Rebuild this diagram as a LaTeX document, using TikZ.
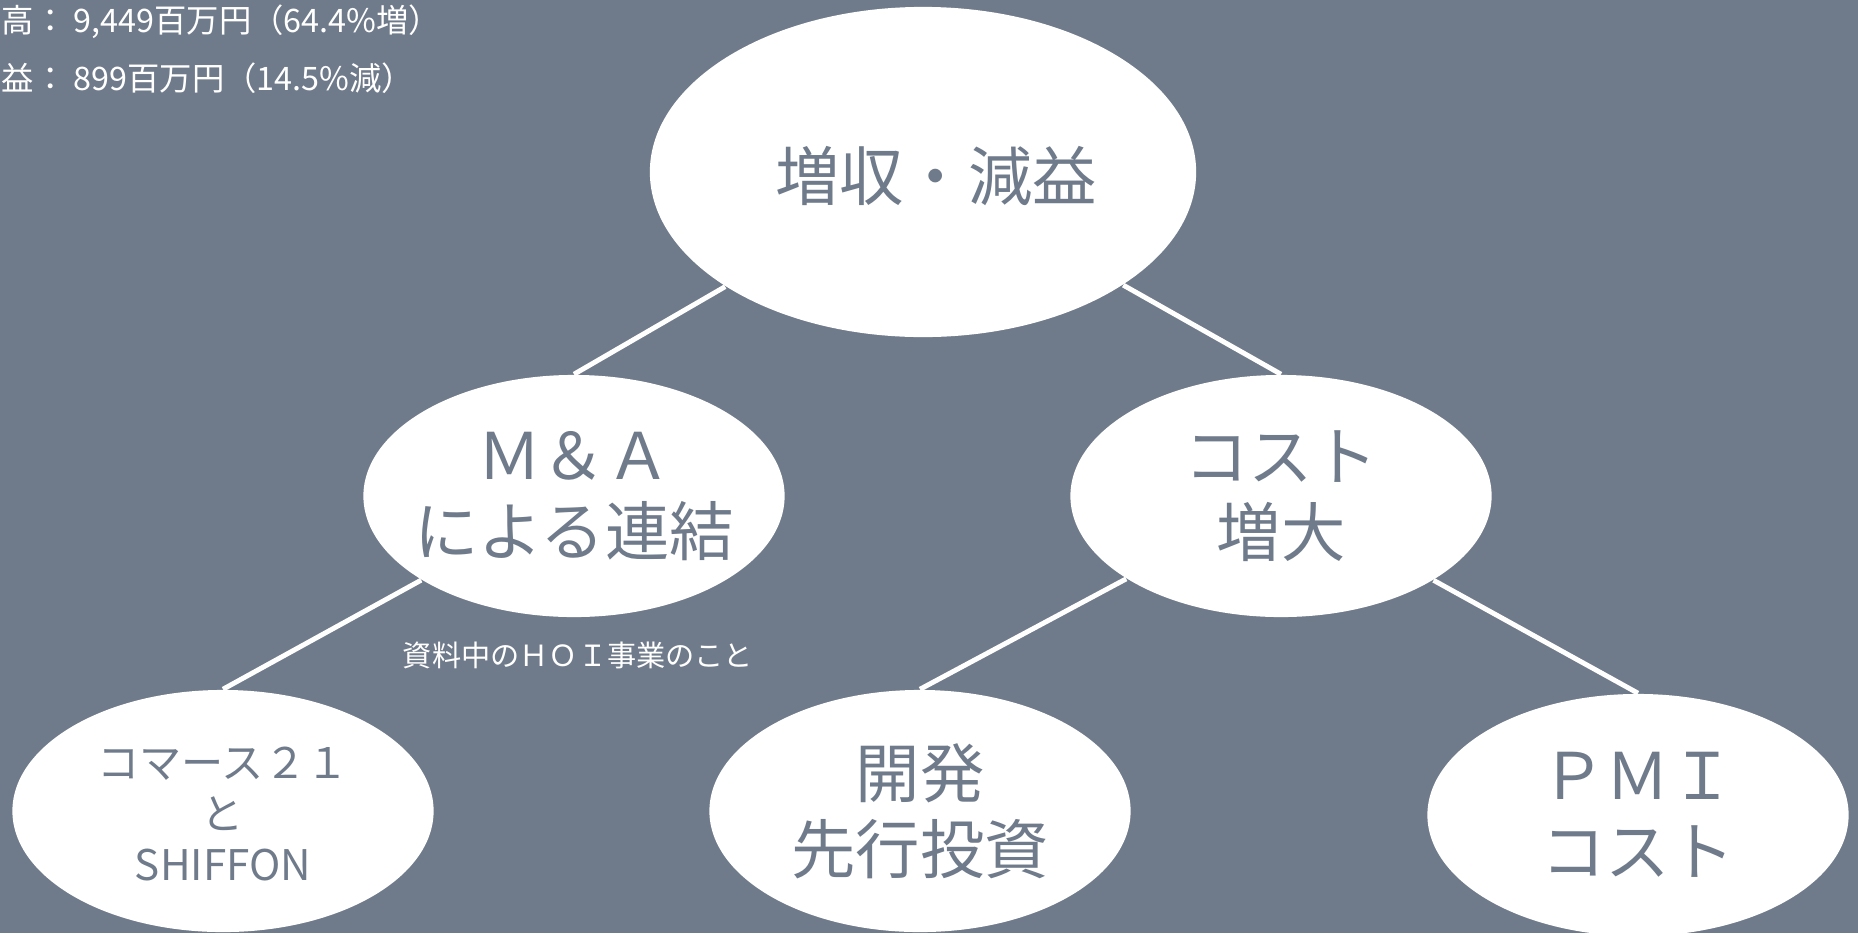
\documentclass[tikz,border=0pt]{standalone}
\usepackage{fontspec}
\setmainfont{Noto Sans CJK JP}
\usetikzlibrary{shapes.geometric}
\definecolor{slate}{RGB}{111,123,139}

\begin{document}
\begin{tikzpicture}[x=0.01cm, y=-0.01cm,
    bubble/.style={ellipse, fill=white, inner sep=0pt, minimum width=4.21cm, minimum height=2.42cm},
    word/.style={text=slate, align=center, inner sep=0pt, font=\fontsize{18.3}{21.6}\selectfont},
    note/.style={text=white, inner sep=0pt, font=\fontsize{9.2}{10}\selectfont},
    link/.style={draw=white, line width=1.4pt}]
            \fill[slate] (0,0) rectangle (1858,933);
            \useasboundingbox (0,0) rectangle (1858,933);

            \node[note, anchor=west] (sales) at (1,22) {高： 9,449百万円（64.4\%増）};
            \node[note, anchor=west] (profit) at (1,78) {益： 899百万円（14.5\%減）};

            \node[bubble, minimum width=5.46cm, minimum height=3.3cm] (top) at (923,172) {};
            \node[word] (top-t) at (936,176) {増収・減益};

            \foreach \n/\x/\y/\t in {ma/574/496/{Ｍ＆Ａ\\による連結}, cost/1281/496/{コスト\\増大},
                                     dev/920/811/{開発\\先行投資}, pmi/1638/815/{ＰＭＩ\\コスト}} {
                \node[bubble] (\n) at (\x, \y) {};
                \node[word] (\n-t) at (\x, \y) {\t};
            }
            \node[bubble] (c21) at (223,811) {};
            \node[word, font=\fontsize{12}{14.5}\selectfont] (c21-t) at (223,814) {コマース２１\\と\\SHIFFON};

            \node[note, font=\fontsize{8.3}{10}\selectfont] (hoi) at (578,655) {資料中のＨＯＩ事業のこと};

            \draw[link] (top) -- (ma.north);
            \draw[link] (top) -- (cost.north);
            \draw[link] (ma) -- (c21.north);
            \draw[link] (cost) -- (dev.north);
            \draw[link] (cost) -- (pmi.north);
        \end{tikzpicture}
\end{document}
